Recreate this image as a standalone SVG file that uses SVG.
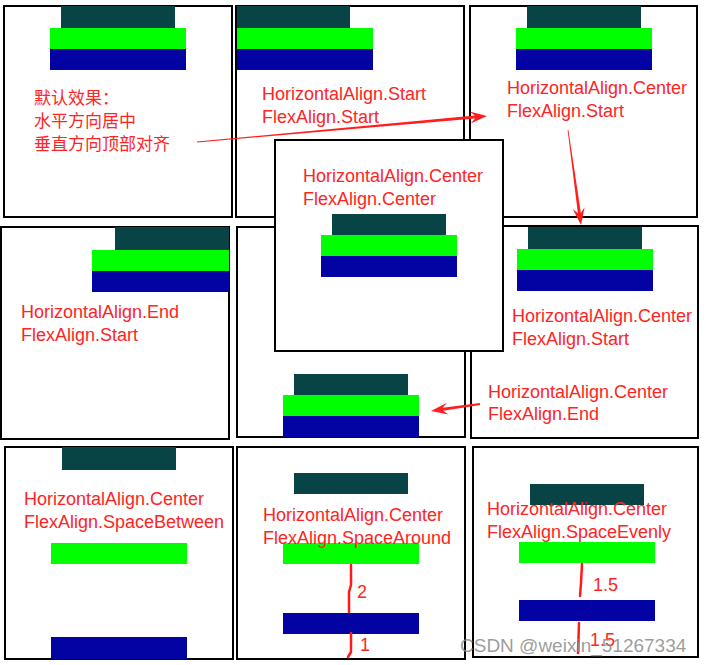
<svg xmlns="http://www.w3.org/2000/svg" width="706" height="665" viewBox="0 0 706 665">
<style>
.panel{fill:#fff;stroke:#000;stroke-width:2}
.d{fill:#084345}
.g{fill:#00ff00}
.b{fill:#0303a3}
.t{font-family:"Liberation Sans","Noto Sans CJK SC",sans-serif;font-size:18px;fill:#ff2424}
.cn{font-family:"Noto Sans CJK SC","Liberation Sans",sans-serif;font-size:17px;fill:#ff2424}
.n{font-family:"Liberation Sans",sans-serif;font-size:18px;fill:#ff2424}
.hand{fill:none;stroke:#ff1a1a;stroke-width:2.5;stroke-linecap:round;stroke-linejoin:round}
.arr{fill:#ff1e1e}
.wm{font-family:"Liberation Sans",sans-serif;font-size:19px;fill:#8a8a8a;fill-opacity:0.85}
</style>
<rect width="706" height="665" fill="#fff"/>

<g id="panel-default">
<rect class="panel" x="4" y="6" width="228" height="211"/>
<rect class="d" x="61" y="6" width="114" height="22"/>
<rect class="g" x="50" y="28" width="136" height="21"/>
<rect class="b" x="50" y="49" width="136" height="21"/>
<text class="cn" x="34" y="104">默认效果：</text>
<text class="cn" x="34" y="127">水平方向居中</text>
<text class="cn" x="34" y="150">垂直方向顶部对齐</text>
</g>

<g id="panel-start-start">
<rect class="panel" x="236" y="6" width="228" height="211"/>
<rect class="d" x="237" y="6" width="113" height="22"/>
<rect class="g" x="237" y="28" width="136" height="21"/>
<rect class="b" x="237" y="49" width="136" height="21"/>
<text class="t" x="262" y="100">HorizontalAlign.Start</text>
<text class="t" x="262" y="123">FlexAlign.Start</text>
</g>

<g id="panel-center-start">
<rect class="panel" x="470" y="6" width="227" height="211"/>
<rect class="d" x="527" y="6" width="114" height="22"/>
<rect class="g" x="516" y="28" width="136" height="21"/>
<rect class="b" x="516" y="49" width="136" height="21"/>
<text class="t" x="507" y="94">HorizontalAlign.Center</text>
<text class="t" x="507" y="117">FlexAlign.Start</text>
</g>

<g id="panel-end-start">
<rect class="panel" x="1" y="227" width="228" height="212"/>
<rect class="d" x="115" y="227" width="114" height="23"/>
<rect class="g" x="92" y="250" width="137" height="21"/>
<rect class="b" x="92" y="271" width="137" height="21"/>
<text class="t" x="21" y="318">HorizontalAlign.End</text>
<text class="t" x="21" y="341">FlexAlign.Start</text>
</g>

<g id="panel-center-end">
<rect class="panel" x="237" y="227" width="228" height="210"/>
<rect class="d" x="294" y="374" width="114" height="21"/>
<rect class="g" x="283" y="395" width="136" height="21"/>
<rect class="b" x="283" y="416" width="136" height="21"/>
</g>

<g id="panel-center-start-2">
<rect class="panel" x="471" y="226" width="227" height="212"/>
<rect class="d" x="528" y="227" width="114" height="22"/>
<rect class="g" x="517" y="249" width="136" height="21"/>
<rect class="b" x="517" y="270" width="136" height="21"/>
<text class="t" x="512" y="322">HorizontalAlign.Center</text>
<text class="t" x="512" y="345">FlexAlign.Start</text>
<text class="t" x="488" y="398">HorizontalAlign.Center</text>
<text class="t" x="488" y="420">FlexAlign.End</text>
</g>

<g id="panel-center-center">
<rect class="panel" x="275" y="140" width="228" height="211"/>
<text class="t" x="303" y="182">HorizontalAlign.Center</text>
<text class="t" x="303" y="205">FlexAlign.Center</text>
<rect class="d" x="332" y="214" width="114" height="21"/>
<rect class="g" x="321" y="235" width="136" height="21"/>
<rect class="b" x="321" y="256" width="136" height="21"/>
</g>

<g id="panel-space-between">
<rect class="panel" x="5" y="447" width="228" height="212"/>
<rect class="d" x="62" y="447" width="114" height="23"/>
<rect class="g" x="51" y="543" width="136" height="21"/>
<rect class="b" x="51" y="637" width="136" height="22"/>
<text class="t" x="24" y="505">HorizontalAlign.Center</text>
<text class="t" x="24" y="528">FlexAlign.SpaceBetween</text>
</g>

<g id="panel-space-around">
<rect class="panel" x="237" y="447" width="228" height="212"/>
<rect class="d" x="294" y="473" width="114" height="21"/>
<rect class="g" x="283" y="543" width="136" height="21"/>
<rect class="b" x="283" y="613" width="136" height="21"/>
<text class="t" x="263" y="521">HorizontalAlign.Center</text>
<text class="t" x="263" y="544">FlexAlign.SpaceAround</text>
<path class="hand" d="M351,565 L351,585 L349,592 L349,612"/>
<path class="hand" d="M351,633 L351,652 L348,657"/>
<text class="n" x="357" y="598">2</text>
<text class="n" x="360" y="651">1</text>
</g>

<g id="panel-space-evenly">
<rect class="panel" x="473" y="447" width="225" height="210"/>
<rect class="d" x="530" y="484" width="114" height="21"/>
<rect class="g" x="519" y="542" width="136" height="21"/>
<rect class="b" x="519" y="600" width="136" height="21"/>
<text class="t" x="487" y="515">HorizontalAlign.Center</text>
<text class="t" x="487" y="538">FlexAlign.SpaceEvenly</text>
<path class="hand" d="M582,564 L581,583 L580,596"/>
<path class="hand" d="M579,623 L578,653"/>
<text class="n" x="593" y="591">1.5</text>
<text class="n" x="590" y="646">1.5</text>
</g>

<g id="connectors">
<polygon class="arr" points="196.96,141.6 474.92,115.58 469.53,111.54 487,116 470.61,123.5 475.18,118.56 197.04,142.4"/>
<polygon class="arr" points="567.6,130.05 577.88,213.31 572.75,208.97 581,225 584.63,207.35 580.86,212.91 568.4,129.95"/>
<polygon class="arr" points="479.9,403.1 442.67,407.82 446.98,402.66 431,411 448.68,414.54 443.09,410.78 480.1,404.9"/>
</g>

<text class="wm" x="460" y="652">CSDN @weixin_51267334</text>
</svg>
